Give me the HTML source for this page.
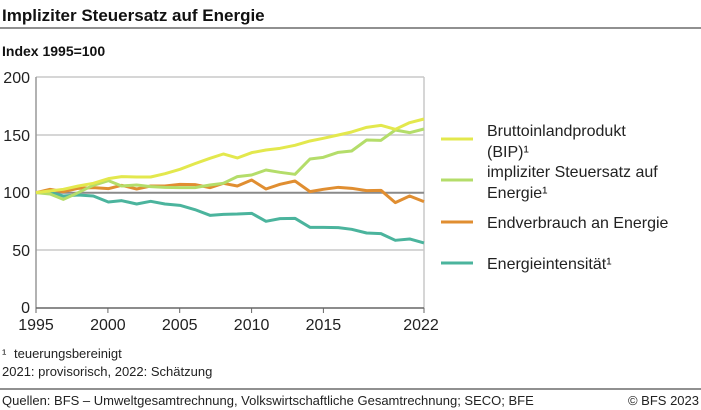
<!DOCTYPE html>
<html><head><meta charset="utf-8"><style>
body{margin:0;background:#fff;}
svg{display:block;font-family:"Liberation Sans",sans-serif;}
</style></head><body>
<svg width="701" height="410" xmlns="http://www.w3.org/2000/svg">
<text x="2" y="21" font-size="17" font-weight="bold" fill="#111">Impliziter Steuersatz auf Energie</text>
<line x1="0" y1="28" x2="701" y2="28" stroke="#222" stroke-width="1"/>
<text x="2" y="56" font-size="14" font-weight="bold" fill="#111">Index 1995=100</text>
<g stroke="#c8c8c8" stroke-width="1.5">
<line x1="36" y1="77" x2="424" y2="77"/>
<line x1="36" y1="135" x2="424" y2="135"/>
<line x1="36" y1="250" x2="424" y2="250"/>
<line x1="424" y1="77" x2="424" y2="308"/>
</g>
<line x1="36" y1="192.7" x2="424" y2="192.7" stroke="#8a8a8a" stroke-width="2"/>
<line x1="36" y1="77" x2="36" y2="308" stroke="#999" stroke-width="1.5"/>
<line x1="36" y1="308" x2="424" y2="308" stroke="#666" stroke-width="1.5"/>
<g font-size="16" fill="#222" text-anchor="end">
<text x="30" y="83">200</text><text x="30" y="141">150</text><text x="30" y="198">100</text><text x="30" y="256">50</text><text x="30" y="313">0</text>
</g>
<g stroke="#666" stroke-width="1">
<line x1="36" y1="308" x2="36" y2="313"/><line x1="107.9" y1="308" x2="107.9" y2="313"/><line x1="179.7" y1="308" x2="179.7" y2="313"/><line x1="251.6" y1="308" x2="251.6" y2="313"/><line x1="323.4" y1="308" x2="323.4" y2="313"/><line x1="424" y1="308" x2="424" y2="313"/>
</g>
<g font-size="16" fill="#222" text-anchor="middle">
<text x="36" y="330">1995</text><text x="107.9" y="330">2000</text><text x="179.7" y="330">2005</text><text x="251.6" y="330">2010</text><text x="323.4" y="330">2015</text><text x="421" y="330">2022</text>
</g>
<g transform="translate(30,70) scale(0.3333)" fill="none" stroke-width="9" stroke-linejoin="round">
<polyline stroke="#4bb49d" points="18,368 60,368 100,378 145,375 190,378 235,396 275,392 320,402 362,394 405,402 450,406 495,419 540,436 580,433 622,432 665,430 708,454 750,446 795,445 840,472 880,472 925,473 965,478 1010,489 1053,491 1096,511 1139,507 1182,519"/>
<polyline stroke="#e08e31" points="18,368 60,358 100,365 145,355 190,353 235,356 275,346 320,357 362,348 405,348 450,343 495,344 540,353 580,340 622,348 665,330 708,357 750,343 795,333 840,365 880,358 925,352 965,355 1010,362 1053,361 1096,398 1139,378 1182,395"/>
<polyline stroke="#b4dd6a" points="18,368 60,372 100,388 140,370 190,346 235,332 275,348 320,345 362,350 405,352 450,353 495,353 540,345 580,340 622,320 665,315 708,300 750,307 795,313 840,267 880,262 925,247 965,243 1010,210 1053,211 1096,180 1139,188 1182,177"/>
<polyline stroke="#e3e84d" points="18,368 100,358 145,348 190,340 235,326 275,320 320,321 362,321 405,311 450,298 495,281 540,265 580,252 622,264 665,248 708,240 750,235 795,226 840,213 880,205 925,195 965,186 1010,172 1053,166 1096,178 1139,158 1182,147"/>
</g>
<g stroke-width="3">
<line x1="441" y1="139" x2="473" y2="139" stroke="#e3e84d"/>
<line x1="441" y1="180" x2="473" y2="180" stroke="#b4dd6a"/>
<line x1="441" y1="222" x2="473" y2="222" stroke="#e08e31"/>
<line x1="441" y1="263" x2="473" y2="263" stroke="#4bb49d"/>
</g>
<g font-size="16" fill="#222">
<text x="487" y="136">Bruttoinlandprodukt</text>
<text x="487" y="157">(BIP)¹</text>
<text x="487" y="177">impliziter Steuersatz auf</text>
<text x="487" y="198">Energie¹</text>
<text x="487" y="228">Endverbrauch an Energie</text>
<text x="487" y="269">Energieintensität¹</text>
</g>
<g font-size="13" fill="#222">
<text x="2" y="358">¹</text>
<text x="14" y="358">teuerungsbereinigt</text>
<text x="2" y="376">2021: provisorisch, 2022: Schätzung</text>
</g>
<line x1="0" y1="389" x2="701" y2="389" stroke="#222" stroke-width="1"/>
<g font-size="13" fill="#222">
<text x="2" y="405">Quellen: BFS – Umweltgesamtrechnung, Volkswirtschaftliche Gesamtrechnung; SECO; BFE</text>
<text x="699" y="405" text-anchor="end">© BFS 2023</text>
</g>
</svg>
</body></html>
